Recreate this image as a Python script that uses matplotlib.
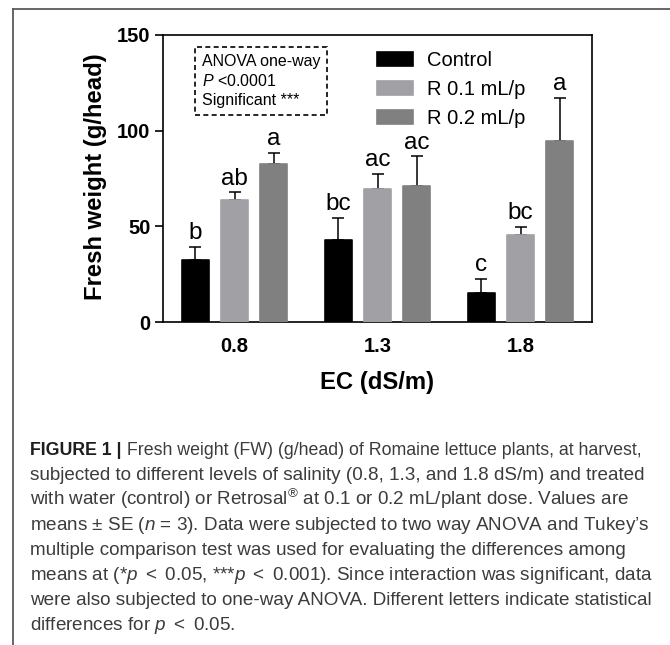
import matplotlib
matplotlib.use("Agg")
import matplotlib.pyplot as plt
from matplotlib.lines import Line2D
import numpy as np

plt.rcParams["font.family"] = ["Liberation Sans", "DejaVu Sans"]
plt.rcParams["mathtext.fontset"] = "custom"
plt.rcParams["mathtext.rm"] = "Liberation Sans"
plt.rcParams["mathtext.it"] = "Liberation Sans:italic"
plt.rcParams["mathtext.bf"] = "Liberation Sans:bold"

# Data: fresh weight (g/head), mean and SE, per salinity level
ec_levels = ["0.8", "1.3", "1.8"]
treatments = ["Control", "R 0.1 mL/p", "R 0.2 mL/p"]
means = {
    "Control":    [32.5, 42.7, 15.4],
    "R 0.1 mL/p": [63.8, 69.6, 45.6],
    "R 0.2 mL/p": [82.7, 71.2, 94.4],
}
errors = {
    "Control":    [6.8, 11.7, 7.2],
    "R 0.1 mL/p": [4.0, 7.8, 4.2],
    "R 0.2 mL/p": [5.6, 15.3, 22.7],
}
letters = {
    "Control":    ["b", "bc", "c"],
    "R 0.1 mL/p": ["ab", "ac", "bc"],
    "R 0.2 mL/p": ["a", "ac", "a"],
}
colors = {"Control": "#000000", "R 0.1 mL/p": "#a1a1a5", "R 0.2 mL/p": "#808080"}
y_ticks = [0, 50, 100, 150]

W, H = 670, 645
fig = plt.figure(figsize=(W / 100, H / 100), dpi=100)

def fx(px):
    return px / W

def fy(py):
    return 1 - py / H

ax = fig.add_axes([fx(163), fy(322), fx(592) - fx(163), fy(35) - fy(322)])

x = np.arange(len(ec_levels))
offsets = [-0.273, 0.0, 0.273]
bar_w = 0.195

handles = []
for trt, off in zip(treatments, offsets):
    xs = x + off
    bars = ax.bar(xs, means[trt], width=bar_w, color=colors[trt],
                  edgecolor=colors[trt], linewidth=1.2, joinstyle="round",
                  zorder=3, label=trt)
    handles.append(bars)
    ax.errorbar(xs, means[trt], yerr=[np.zeros(len(xs)), errors[trt]],
                fmt="none", ecolor="black", elinewidth=1.1, capsize=4.2,
                capthick=1.1, zorder=2)
    for xi, m, e, lab in zip(xs, means[trt], errors[trt], letters[trt]):
        ax.annotate(lab, (xi, m + e), xytext=(0, 5.5), textcoords="offset points",
                    ha="center", va="baseline", fontsize=17.5)

ax.set_xlim(-0.5, 2.5)
ax.set_ylim(0, 150)
ax.set_xticks(x)
ax.set_xticklabels(ec_levels)
ax.set_yticks(y_ticks)
ax.tick_params(axis="x", length=0, pad=11, labelsize=14.5)
ax.tick_params(axis="y", length=6, width=1.2, pad=3, labelsize=14.5, direction="out")
for lab in ax.get_xticklabels() + ax.get_yticklabels():
    lab.set_fontweight("bold")
for sp in ax.spines.values():
    sp.set_linewidth(1.2)
    sp.set_color("black")

ax.set_ylabel("Fresh weight (g/head)", fontsize=17.2, fontweight="bold", va="center")
ax.yaxis.set_label_coords(-0.158, 0.507)
ax.set_xlabel("EC (dS/m)", fontsize=17.2, fontweight="bold", va="center")
ax.xaxis.set_label_coords(0.499, -0.2125)

leg = ax.legend(handles=handles, labels=treatments, loc="upper left",
                bbox_to_anchor=(fx(377), fy(51)), bbox_transform=fig.transFigure,
                frameon=False, fontsize=14.5, handlelength=1.8, handleheight=0.65,
                handletextpad=0.7, labelspacing=0.5, borderpad=0, borderaxespad=0)

# ANOVA summary box
fig.text(fx(202), fy(54), "ANOVA one-way\n$P$ <0.0001\nSignificant ***",
         fontsize=11.5, va="top", ha="left", linespacing=1.32,
         bbox=dict(boxstyle="square,pad=0.42", fc="white", ec="black",
                   ls=(0, (3, 2)), lw=1.2))

# Outer frame lines
fig.add_artist(Line2D([fx(13), 1], [fy(9), fy(9)], color="#5a5a5a", lw=1.3,
                      transform=fig.transFigure))
fig.add_artist(Line2D([fx(13), fx(13)], [fy(9), 0], color="#5a5a5a", lw=1.3,
                      transform=fig.transFigure))

# Caption
cap_size = 13.6
first_size = 12.8
cap_color = "#3c3c3c"
t0 = fig.text(fx(30), fy(455), "FIGURE 1 |", fontsize=first_size, fontweight="bold",
              color="#1e1e1e", va="baseline", ha="left")
ax.annotate(" Fresh weight (FW) (g/head) of Romaine lettuce plants, at harvest,",
            xy=(1, 0), xycoords=t0, va="bottom", ha="left",
            fontsize=first_size, color=cap_color, annotation_clip=False)
caption_lines = [
    "subjected to different levels of salinity (0.8, 1.3, and 1.8 dS/m) and treated",
    r"with water (control) or Retrosal$^{\circledR}$ at 0.1 or 0.2 mL/plant dose. Values are",
    r"means $\pm$ SE ($n$ = 3). Data were subjected to two way ANOVA and Tukey’s",
    "multiple comparison test was used for evaluating the differences among",
    r"means at (*$p$ $<$ 0.05, ***$p$ $<$ 0.001). Since interaction was significant, data",
    "were also subjected to one-way ANOVA. Different letters indicate statistical",
    r"differences for $p$ $<$ 0.05.",
]
for i, line in enumerate(caption_lines):
    fig.text(fx(30), fy(455 + 25 * (i + 1)), line, fontsize=cap_size,
             color=cap_color, va="baseline", ha="left")

fig.savefig("out.png", dpi=100)
